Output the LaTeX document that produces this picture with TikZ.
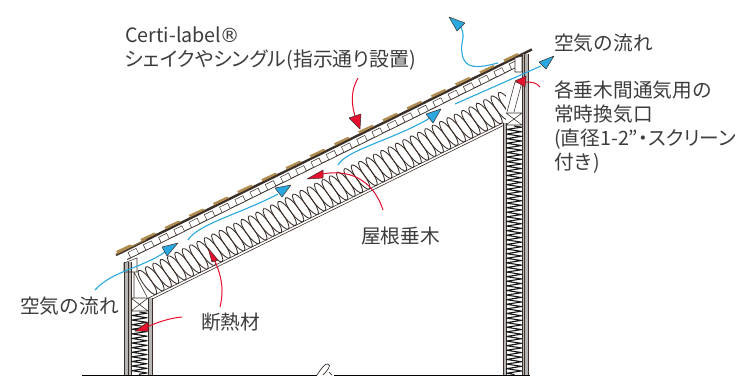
\documentclass[tikz,border=0pt]{standalone}
\usepackage{fontspec}
\setmainfont{Noto Sans CJK JP}
\newfontfamily\symfont{DejaVu Sans}
\usetikzlibrary{decorations.pathmorphing}
\definecolor{txt}{HTML}{3C3C3C}
\definecolor{tan}{HTML}{B08C50}
\definecolor{dk}{HTML}{3A2E28}
\definecolor{flow}{HTML}{29A9E0}
\definecolor{hot}{HTML}{E5102E}
\definecolor{wallgrey}{HTML}{B8B6B4}
\newcommand{\palt}{\addfontfeatures{RawFeature=+palt}}
\tikzset{
  lbl/.style={font=\fontsize{19.7}{24}\selectfont,text=txt,inner sep=0pt,anchor=base west,align=left},
  flowline/.style={draw=flow,line width=1.1pt},
  hotline/.style={draw=hot,line width=1pt},
  flowhead/.style={fill=flow,draw=dk,line width=.5pt,line join=round},
  hothead/.style={fill=hot,draw=dk,line width=.5pt,line join=round},
  zig/.style={draw=black!90,line width=1.1pt,line join=round,decorate,decoration={zigzag,amplitude=7.6pt,segment length=4.6pt,pre length=0pt,post length=0pt}},
  wl/.style={draw=dk,line width=.55pt},
}
\begin{document}
\begin{tikzpicture}[x=1pt,y=-1pt]
\useasboundingbox (0,0) rectangle (742,376);
% ---- roof, in roof coordinates (u along, v below)
\begin{scope}[shift={(116,255)},rotate=26.3]
  \fill[white] (6,0) -- (445,0) -- (445,9) -- (400,53) -- (6,53) -- cycle;
  \foreach \u in {16,24.2,...,425}
    \draw[dk,line width=.85pt,rotate around={10:(\u,38.5)}] (\u,38.5) ellipse (4.1 and 14.8);
  \draw[dk,line width=.6pt] (10,53) -- (406,53);
  \draw[dk,line width=.6pt] (11,55.5) -- (406,55.5);
  \draw[dk,line width=.9pt] (8,9) -- (452,9);
  \foreach \u in {12,29,...,450}
    \draw[dk,line width=.5pt,fill=white] (\u,3) rectangle (\u+9,9);
  \draw[dk,line width=2.4pt] (0,0) -- (464,0);
  \foreach \u in {2,29,...,440}
    \fill[tan] (\u,-3.6) -- (\u+15,-3.2) -- (\u+17,-1) -- (\u,-1) -- cycle;
  \draw[tan,line width=.8pt] (0,-.6) -- (34,-.6);
\end{scope}
% ---- left wall
\fill[white] (131,273) rectangle (134,298);
\fill[white] (131,298) rectangle (148,375);
\fill[wallgrey] (124,262) rectangle (131,375);
\fill[wallgrey] (148,298) rectangle (152,375);
\foreach \x in {124,128,131} \draw[wl] (\x,262) -- (\x,375);
\foreach \x in {148,152} \draw[wl] (\x,298) -- (\x,375);
\draw[wl] (124,263) -- (137,258) -- (137,272) -- (124,272) -- cycle;
\draw[wl] (134,272) -- (134,298) (134,272) -- (147,297);
\draw[wl] (131,298) -- (148,311) (148,298) -- (131,311) (131,298) -- (148,298) (131,311) -- (148,311);
\draw[zig] (139.5,312) -- (139.5,375);
% ---- right wall
\fill[white] (506,80) rectangle (522,375);
\fill[wallgrey] (523,54) rectangle (528,375);
\fill[wallgrey] (503,123) rectangle (506,375);
\foreach \x in {503,506} \draw[wl] (\x,123) -- (\x,375);
\foreach \x in {522,524,528} \draw[wl] (\x,54) -- (\x,375);
\draw[wl] (506,113) -- (522,113) (506,125) -- (522,125) (506,113) -- (522,125) (522,113) -- (506,125);
\draw[wl] (515,82) -- (522,82) (515,82) -- (507,112) (522,82) -- (514,112);
\draw[wl,fill=white] (515,58) -- (522,56) -- (522,72) -- (515,72) -- cycle;
\draw[zig] (514,126) -- (514,375);
% ---- base line with break
\draw[black,line width=1pt] (82,375) -- (317,375);
\draw[black,line width=1pt] (334,375) -- (530,375);
\draw[dk,line width=.7pt] (317,375) .. controls (321,369) and (325,363) .. (328,364) .. controls (332,365) and (327,371) .. (323,375);
\draw[dk,line width=.7pt] (329,372) -- (332,375);
% ---- air flow
\draw[flowline] (95,290) .. controls (112,271) and (142,268) .. (165,252);
\fill[flowhead] (178,243) -- (162,247) -- (167,256) -- cycle;
\draw[flowline] (188,240) .. controls (198,224) and (240,214) .. (278,194);
\fill[flowhead] (291,185) -- (275,188) -- (282,197) -- cycle;
\draw[flowline] (338,165) .. controls (346,150) and (395,139) .. (430,118);
\fill[flowhead] (441,109) -- (426,114) -- (433,123) -- cycle;
\draw[flowline] (455,104) -- (541,66);
\fill[flowhead] (554,56) -- (539,62) -- (546,69) -- cycle;
\draw[flowline] (498,63) .. controls (478,68) and (464,70) .. (462,53) .. controls (460,42) and (466,38) .. (461,27);
\fill[flowhead] (449,17) -- (465,23) -- (457,31) -- cycle;
% ---- red pointers
\draw[hotline] (358,78) .. controls (351,90) and (351,103) .. (355,116);
\fill[hothead] (360,129) -- (349,118) -- (361,114) -- cycle;
\draw[hotline] (383,210) .. controls (375,185) and (355,168) .. (322,174);
\fill[hothead] (307,179) -- (323,170) -- (323,178) -- cycle;
\draw[hotline] (220,307) .. controls (224,290) and (222,278) .. (215,261);
\fill[hothead] (208,248) -- (218,260) -- (212,262) -- cycle;
\draw[hotline] (182,317) .. controls (170,318) and (158,322) .. (147,327);
\fill[hothead] (135,331) -- (148,322) -- (148,331) -- cycle;
\draw[hotline] (540,87) .. controls (536,82) and (531,82) .. (525,82);
\fill[hothead] (515,81) -- (526,76) -- (525,87) -- cycle;
% ---- labels
\node[lbl] (certi) at (125,42) {Certi-label\hspace{-1.5pt}{\symfont ®}};
\node[lbl] (shake) at (125,66) {\fontsize{19.9}{24}\selectfont\palt シェイクやシングル(指示通り設置)};
\node[lbl] (airR) at (554,50) {空気の流れ};
\node[lbl] (vent1) at (554,97) {各垂木間通気用の};
\node[lbl] (vent2) at (554,121) {常時換気口};
\node[lbl] (vent3) at (554,145) {\palt (直径1-2"・スクリーン};
\node[lbl] (vent4) at (554,169) {付き)};
\node[lbl] (rafter) at (361,243) {屋根垂木};
\node[lbl] (airL) at (20,313) {空気の流れ};
\node[lbl] (insul) at (201,329) {断熱材};
\end{tikzpicture}
\end{document}
